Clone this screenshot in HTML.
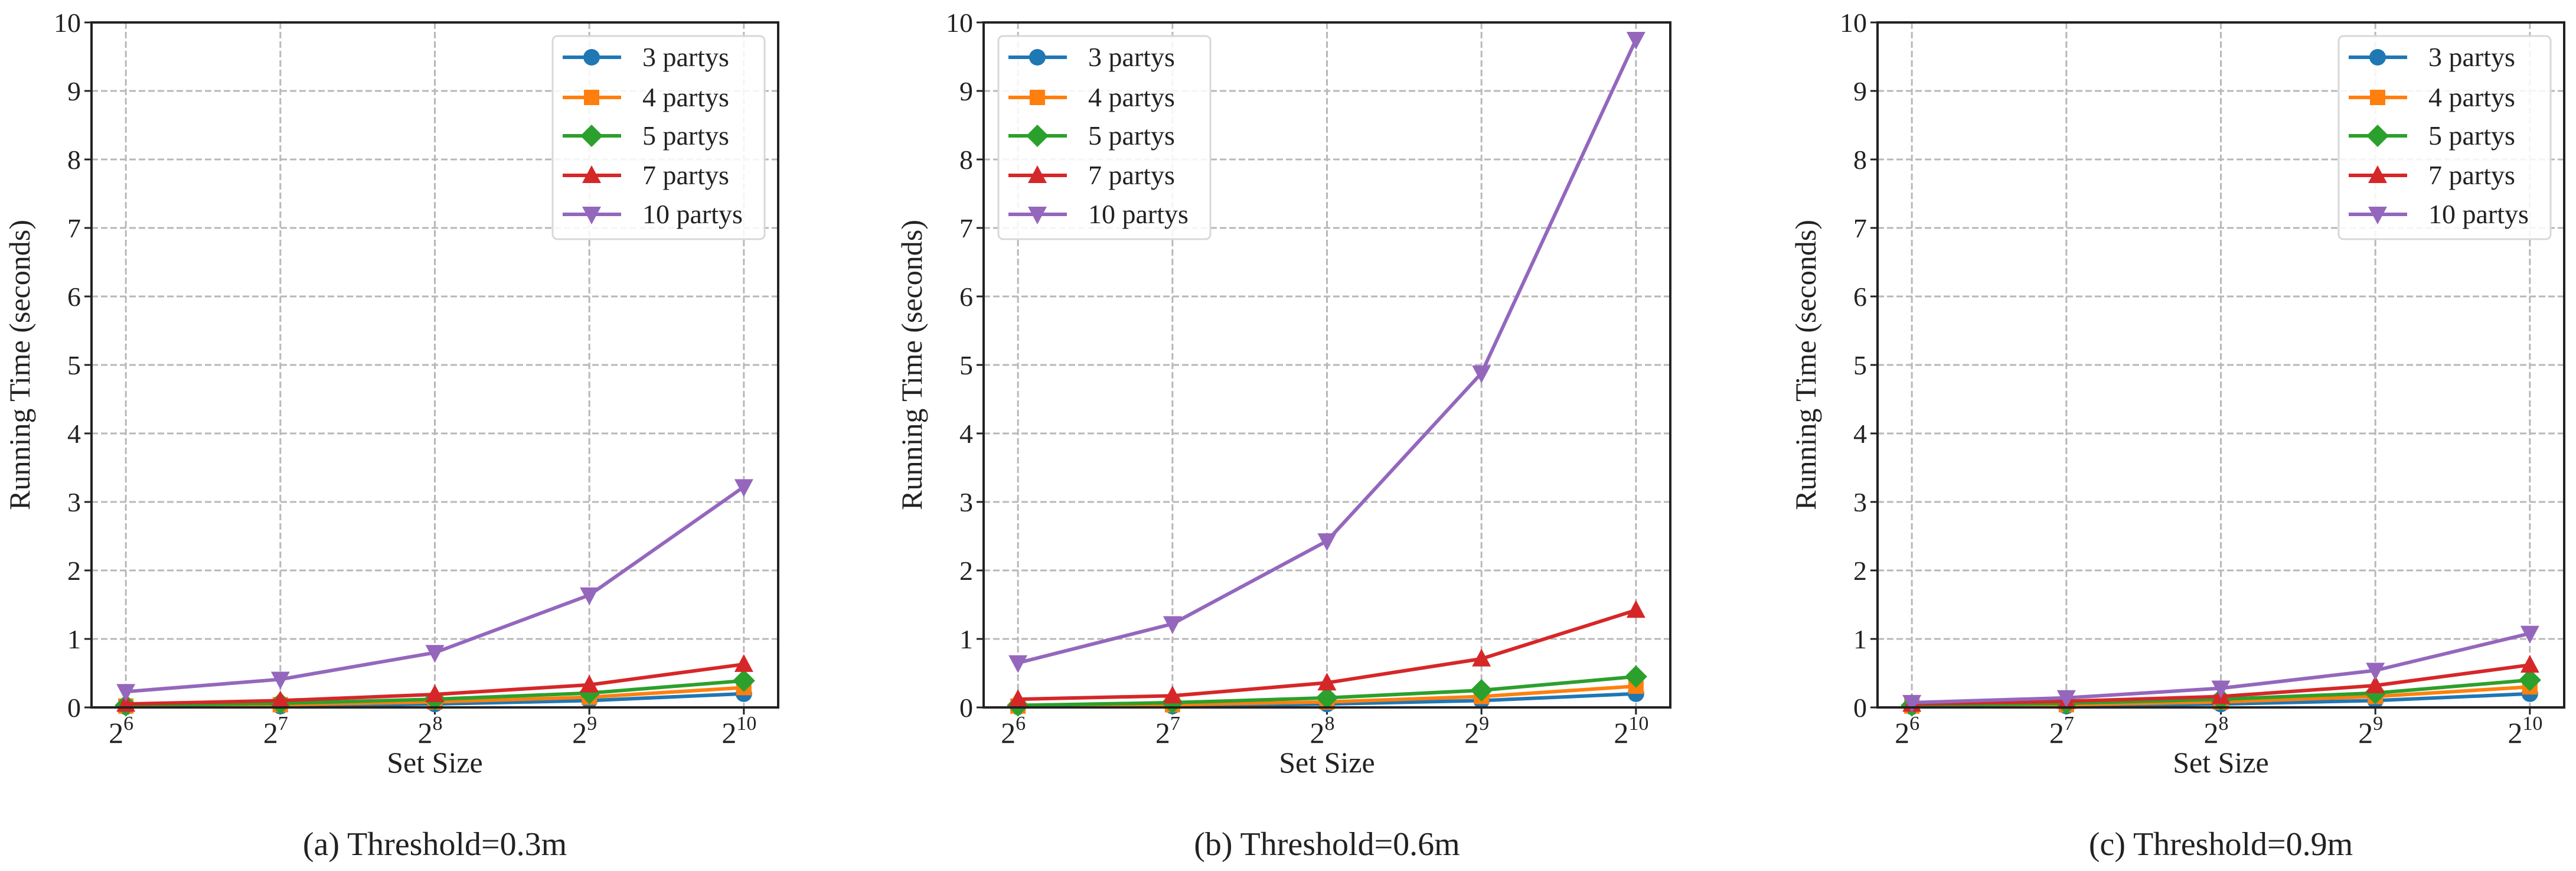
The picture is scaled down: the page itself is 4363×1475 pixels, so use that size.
<!DOCTYPE html>
<html><head><meta charset="utf-8"><style>
html,body{margin:0;padding:0;background:#fff}
svg{display:block;font-family:"Liberation Serif","DejaVu Serif",serif}
</style></head><body>
<svg id="fig" width="4363" height="1475" viewBox="0 0 4363 1475" xmlns="http://www.w3.org/2000/svg"></svg>
<script>
const categories = [6, 7, 8, 9, 10];
const seriesNames = ["3 partys", "4 partys", "5 partys", "7 partys", "10 partys"];
const yTicks = [0,1,2,3,4,5,6,7,8,9,10];
const captions = ["(a) Threshold=0.3m", "(b) Threshold=0.6m", "(c) Threshold=0.9m"];
const panelA = [
  [0.01,0.02,0.05,0.10,0.20],
  [0.02,0.04,0.08,0.15,0.29],
  [0.03,0.06,0.12,0.21,0.39],
  [0.05,0.10,0.19,0.33,0.63],
  [0.23,0.41,0.80,1.64,3.22]
];
const panelB = [
  [0.01,0.02,0.05,0.10,0.20],
  [0.02,0.04,0.08,0.16,0.31],
  [0.03,0.07,0.14,0.25,0.45],
  [0.12,0.17,0.36,0.71,1.42],
  [0.65,1.22,2.43,4.88,9.75]
];
const panelC = [
  [0.01,0.02,0.05,0.10,0.20],
  [0.02,0.04,0.08,0.16,0.30],
  [0.03,0.06,0.12,0.21,0.40],
  [0.05,0.09,0.16,0.32,0.62],
  [0.07,0.14,0.28,0.54,1.08]
];
const panels = [panelA, panelB, panelC];

const colors = ["#1f77b4","#ff7f0e","#2ca02c","#d62728","#9467bd"];
const markers = ["circle","square","diamond","tri-up","tri-down"];
const NS = "http://www.w3.org/2000/svg";
const svg = document.getElementById("fig");
const layout = [
  {left:155, legX:936, legLeftOffset:0},
  {left:1666, legX:1691},
  {left:3180, legX:3961}
];
const W = 1163, TOP = 38, BOT = 1198;
function mk(tag, attrs, parent){ const e=document.createElementNS(NS,tag); for(const k in attrs) e.setAttribute(k,attrs[k]); (parent||svg).appendChild(e); return e; }
function marker(g, type, cx, cy, color){
  let e;
  if(type==="circle") e=mk("circle",{cx:cx,cy:cy,r:14,fill:color},g);
  else if(type==="square") e=mk("rect",{x:cx-13,y:cy-13,width:26,height:26,fill:color},g);
  else if(type==="diamond") e=mk("polygon",{points:`${cx},${cy-19} ${cx+19},${cy} ${cx},${cy+19} ${cx-19},${cy}`,fill:color},g);
  else if(type==="tri-up") e=mk("polygon",{points:`${cx},${cy-17} ${cx+16},${cy+13} ${cx-16},${cy+13}`,fill:color},g);
  else e=mk("polygon",{points:`${cx},${cy+17} ${cx+16},${cy-13} ${cx-16},${cy-13}`,fill:color},g);
  return e;
}
panels.forEach((data, p) => {
  const L = layout[p].left, R = L + W;
  const pad = W*0.05;
  const xs = i => L + pad + (W-2*pad) * (categories[i]-categories[0])/(categories[categories.length-1]-categories[0]);
  const ys = v => BOT - (BOT-TOP) * v/10;
  const g = mk("g",{});
  
  
  // grid
  yTicks.forEach(t => {
    const l = mk("line",{x1:L,x2:R,y1:ys(t),y2:ys(t),stroke:"#b8b8b8","stroke-width":3,"stroke-dasharray":"11,5"},g);
    
    
    const tk = mk("line",{x1:L-12,x2:L,y1:ys(t),y2:ys(t),stroke:"#222","stroke-width":3},g);
    const tx = mk("text",{x:L-18,y:ys(t)+16,"text-anchor":"end","font-size":46,fill:"#222"},g);
    tx.textContent = t;
    
    
  });
  categories.forEach((c,i) => {
    const l = mk("line",{x1:xs(i),x2:xs(i),y1:TOP,y2:BOT,stroke:"#b8b8b8","stroke-width":3,"stroke-dasharray":"11,5"},g);
    
    
    mk("line",{x1:xs(i),x2:xs(i),y1:BOT,y2:BOT+12,stroke:"#222","stroke-width":3},g);
    const tx = mk("text",{x:xs(i)-8,y:BOT+60,"text-anchor":"middle","font-size":50,fill:"#222"},g);
    tx.innerHTML = '2<tspan dy="-22" font-size="34">'+c+'</tspan>';
    
    
  });
  // series
  data.forEach((vals, s) => {
    const sg = mk("g",{},g);
    
    
    const pts = vals.map((v,i)=>xs(i)+","+ys(v)).join(" ");
    mk("polyline",{points:pts,fill:"none",stroke:colors[s],"stroke-width":6,"stroke-linejoin":"round"},sg);
    vals.forEach((v,i) => {
      const m = marker(sg, markers[s], xs(i), ys(v), colors[s]);
      
      
    });
  });
  // spines
  const fr = mk("rect",{x:L,y:TOP,width:W,height:BOT-TOP,fill:"none",stroke:"#222","stroke-width":4},g);
  
  
  // labels
  const yl = mk("text",{x:0,y:0,"text-anchor":"middle","font-size":50,fill:"#222",transform:`translate(${L-105},${(TOP+BOT)/2}) rotate(-90)`},g);
  yl.textContent = "Running Time (seconds)";
  
  
  const xl = mk("text",{x:L+W/2,y:1308,"text-anchor":"middle","font-size":50,fill:"#222"},g);
  xl.textContent = "Set Size";
  
  
  const cap = mk("text",{x:L+W/2,y:1448,"text-anchor":"middle","font-size":56,fill:"#222"},g);
  cap.textContent = captions[p];
  
  
  // legend
  const lx = layout[p].legX;
  const lg = mk("g",{},g);
  
  
  mk("rect",{x:lx,y:61,width:359,height:344,rx:8,fill:"#fff","fill-opacity":0.85,stroke:"#d8d8d8","stroke-width":3},lg);
  const rowY = [97,165,230,297,363];
  seriesNames.forEach((n,s) => {
    const eg = mk("g",{},lg);
    
    
    mk("line",{x1:lx+17,x2:lx+116,y1:rowY[s],y2:rowY[s],stroke:colors[s],"stroke-width":6},eg);
    marker(eg, markers[s], lx+66, rowY[s], colors[s]);
    const t = mk("text",{x:lx+152,y:rowY[s]+15,"font-size":46,fill:"#222"},eg);
    t.textContent = n;
  });
});
</script>
</body></html>
